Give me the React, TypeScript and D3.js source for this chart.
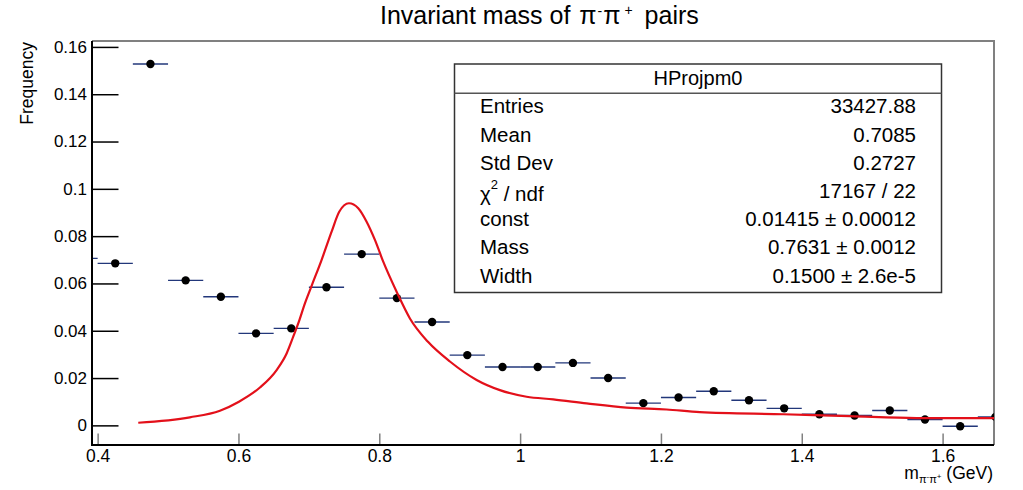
import * as d3 from 'd3'
import { useEffect, useRef } from 'react'

// histogram bins (centre, content)
const binCenters = [
  0.375, 0.425, 0.475, 0.525, 0.575, 0.625, 0.675, 0.725, 0.775, 0.825, 0.875, 0.925, 0.975, 1.025,
  1.075, 1.125, 1.175, 1.225, 1.275, 1.325, 1.375, 1.425, 1.475, 1.525, 1.575, 1.625, 1.675,
]
const binValues = [
  0.0706, 0.0685, 0.1528, 0.0613, 0.0544, 0.0389, 0.041, 0.0584, 0.0724, 0.0538, 0.0437, 0.0297, 0.0247,
  0.0247, 0.0264, 0.02, 0.0094, 0.0118, 0.0144, 0.0106, 0.0072, 0.0047, 0.0042, 0.0063, 0.0025, -0.0004,
  0.0036,
]
const binWidth = 0.05

// fitted curve
const fitX = [
  0.4577, 0.531, 0.5737, 0.6007, 0.6305, 0.6542, 0.6684, 0.6778, 0.6849, 0.6944, 0.7039, 0.718, 0.7323,
  0.7431, 0.7569, 0.7701, 0.782, 0.7938, 0.8056, 0.8246, 0.8435, 0.8695, 0.9003, 0.9382, 0.9713, 1.0092,
  1.047, 1.0944, 1.1512, 1.208, 1.2553, 1.3736, 1.4683, 1.563, 1.673,
]
const fitY = [
  0.0011, 0.0034, 0.0062, 0.01, 0.016, 0.0234, 0.0304, 0.0375, 0.0431, 0.0516, 0.059, 0.0699, 0.0819,
  0.0903, 0.0939, 0.0918, 0.0861, 0.0784, 0.0692, 0.0565, 0.0452, 0.0352, 0.027, 0.0192, 0.0149, 0.0121,
  0.011, 0.0093, 0.0075, 0.0067, 0.0056, 0.0047, 0.0039, 0.0031, 0.0031,
]

const xMajor = [0.4, 0.6, 0.8, 1.0, 1.2, 1.4, 1.6]
const xMinor = d3.range(0.45, 1.67, 0.05)
const yMajor = [0, 0.02, 0.04, 0.06, 0.08, 0.1, 0.12, 0.14, 0.16]
const yMinor = d3.range(-0.005, 0.1601, 0.005)

const statLabels = ['Entries', 'Mean', 'Std Dev', 'chi2', 'const', 'Mass', 'Width']
const statValues = ['33427.88', '0.7085', '0.2727', '17167 / 22', '0.01415 ± 0.00012', '0.7631 ± 0.0012', '0.1500 ± 2.6e-5']

const W = 1023
const H = 490
const left = 92
const right = 994
const top = 41
const bottom = 445
const FONT = "'Liberation Sans', Arial, Helvetica, sans-serif"

export default function App(): JSX.Element {
  const ref = useRef<SVGSVGElement | null>(null)

  useEffect(() => {
    const svg = d3.select(ref.current)
    svg.selectAll('*').remove()

    const x = d3.scaleLinear().domain([0.392, 1.673]).range([left, right])
    const y = d3.scaleLinear().domain([-0.0083, 0.1625]).range([bottom, top])

    svg.append('rect').attr('width', W).attr('height', H).attr('fill', '#fff')

    svg
      .append('clipPath')
      .attr('id', 'plot')
      .append('rect')
      .attr('x', left)
      .attr('y', top)
      .attr('width', right - left)
      .attr('height', bottom - top)

    // frame: top and right are grey
    svg
      .append('path')
      .attr('d', `M${left},${top}H${right}V${bottom}`)
      .attr('fill', 'none')
      .attr('stroke', '#808080')
      .attr('stroke-width', 2)

    const plot = svg.append('g').attr('clip-path', 'url(#plot)')

    // error bars
    plot
      .selectAll('line.err')
      .data(binCenters)
      .join('line')
      .attr('x1', (d) => x(d - binWidth / 2))
      .attr('x2', (d) => x(d + binWidth / 2))
      .attr('y1', (_, i) => y(binValues[i]))
      .attr('y2', (_, i) => y(binValues[i]))
      .attr('stroke', '#22377a')
      .attr('stroke-width', 1.4)

    plot
      .selectAll('circle')
      .data(binCenters)
      .join('circle')
      .attr('cx', (d) => x(d))
      .attr('cy', (_, i) => y(binValues[i]))
      .attr('r', 4.2)
      .attr('fill', '#000')

    const line = d3
      .line<number>()
      .x((d) => x(d))
      .y((_, i) => y(fitY[i]))
      .curve(d3.curveMonotoneX)

    plot
      .append('path')
      .attr('d', line(fitX))
      .attr('fill', 'none')
      .attr('stroke', '#e3101a')
      .attr('stroke-width', 2.2)

    // x axis
    const gx = svg.append('g').attr('transform', `translate(0,${bottom})`)
    gx.call(
      d3
        .axisBottom(x)
        .tickValues(xMinor)
        .tickSize(-5.5)
        .tickFormat(() => '')
    )
    gx.call(
      d3
        .axisBottom(x)
        .tickValues(xMajor)
        .tickSize(-11.5)
        .tickPadding(5)
        .tickFormat((d) => d3.format('~g')(d as number))
    )
    gx.select('.domain').remove()
    gx.selectAll('.tick line').attr('stroke', '#808080').attr('stroke-width', 1.5)
    gx.selectAll('.tick text').attr('font-size', 17.5).attr('font-family', FONT).attr('fill', '#000')
    svg
      .append('line')
      .attr('x1', left - 1)
      .attr('x2', right)
      .attr('y1', bottom)
      .attr('y2', bottom)
      .attr('stroke', '#000')
      .attr('stroke-width', 2)

    // y axis
    const gy = svg.append('g').attr('transform', `translate(${left},0)`)
    gy.call(
      d3
        .axisLeft(y)
        .tickValues(yMinor)
        .tickSize(-14)
        .tickFormat(() => '')
    )
    gy.call(
      d3
        .axisLeft(y)
        .tickValues(yMajor)
        .tickSize(-26.5)
        .tickPadding(5)
        .tickFormat((d) => d3.format('~g')(d as number))
    )
    gy.select('.domain').remove()
    gy.selectAll('.tick line').attr('stroke', '#000').attr('stroke-width', 1.5)
    gy.selectAll('.tick text').attr('font-size', 17).attr('font-family', FONT).attr('fill', '#000')
    svg
      .append('line')
      .attr('x1', left)
      .attr('x2', left)
      .attr('y1', top)
      .attr('y2', bottom + 1)
      .attr('stroke', '#000')
      .attr('stroke-width', 2)

    // title
    const title = svg
      .append('text')
      .attr('x', 380)
      .attr('y', 23.5)
      .attr('font-size', 25)
      .attr('font-family', FONT)
    title.append('tspan').text('Invariant mass of ')
    title.append('tspan').attr('dx', 2).text('π')
    title.append('tspan').attr('font-size', 14).attr('dy', -8).attr('dx', 1).text('-')
    title.append('tspan').attr('dy', 8).attr('dx', 1).text('π')
    title.append('tspan').attr('font-size', 14).attr('dy', -8.5).attr('dx', 4).text('+')
    title.append('tspan').attr('dy', 8.5).attr('dx', 5).text(' pairs')

    // axis titles
    svg
      .append('text')
      .attr('transform', 'translate(33,42) rotate(-90)')
      .attr('text-anchor', 'end')
      .attr('font-size', 17.5)
      .attr('font-family', FONT)
      .text('Frequency')

    const xt = svg
      .append('text')
      .attr('x', 993)
      .attr('y', 479)
      .attr('text-anchor', 'end')
      .attr('font-size', 17.5)
      .attr('font-family', FONT)
    xt.append('tspan').text('m')
    xt.append('tspan').attr('font-size', 11).attr('dy', 4).text('π')
    xt.append('tspan').attr('font-size', 8).attr('dy', -4).text('-')
    xt.append('tspan').attr('font-size', 11).attr('dy', 4).text('π')
    xt.append('tspan').attr('font-size', 8).attr('dy', -4).text('+')
    xt.append('tspan').attr('dy', 0).text(' (GeV)')

    // stats box
    const bx0 = 454.5
    const bx1 = 941.5
    const by0 = 64
    const by1 = 292.5
    const box = svg.append('g').attr('font-family', FONT).attr('font-size', 20.5)
    box
      .append('rect')
      .attr('x', bx0)
      .attr('y', by0)
      .attr('width', bx1 - bx0)
      .attr('height', by1 - by0)
      .attr('fill', '#fff')
      .attr('stroke', '#333')
      .attr('stroke-width', 1.5)
    box
      .append('line')
      .attr('x1', bx0)
      .attr('x2', bx1)
      .attr('y1', 93.3)
      .attr('y2', 93.3)
      .attr('stroke', '#555')
      .attr('stroke-width', 1.5)
    box
      .append('text')
      .attr('x', (bx0 + bx1) / 2)
      .attr('y', 85)
      .attr('text-anchor', 'middle')
      .attr('font-size', 20)
      .text('HProjpm0')

    const rowY = d3.scaleLinear().domain([0, 1]).range([113.3, 141.5])
    statLabels.forEach((lab, i) => {
      const yy = rowY(i)
      if (lab === 'chi2') {
        const t = box.append('text').attr('x', 480).attr('y', yy + 3.5)
        t.append('tspan').text('χ')
        t.append('tspan').attr('font-size', 13).attr('dy', -12).text('2')
        t.append('tspan').attr('dy', 12).text(' / ndf')
      } else {
        box.append('text').attr('x', 480).attr('y', yy).text(lab)
      }
      box.append('text').attr('x', 916).attr('y', yy).attr('text-anchor', 'end').text(statValues[i])
    })
  }, [])

  return (
    <svg
      ref={ref}
      width={W}
      height={H}
      style={{ position: 'absolute', left: 0, top: 0, display: 'block' }}
    />
  )
}
